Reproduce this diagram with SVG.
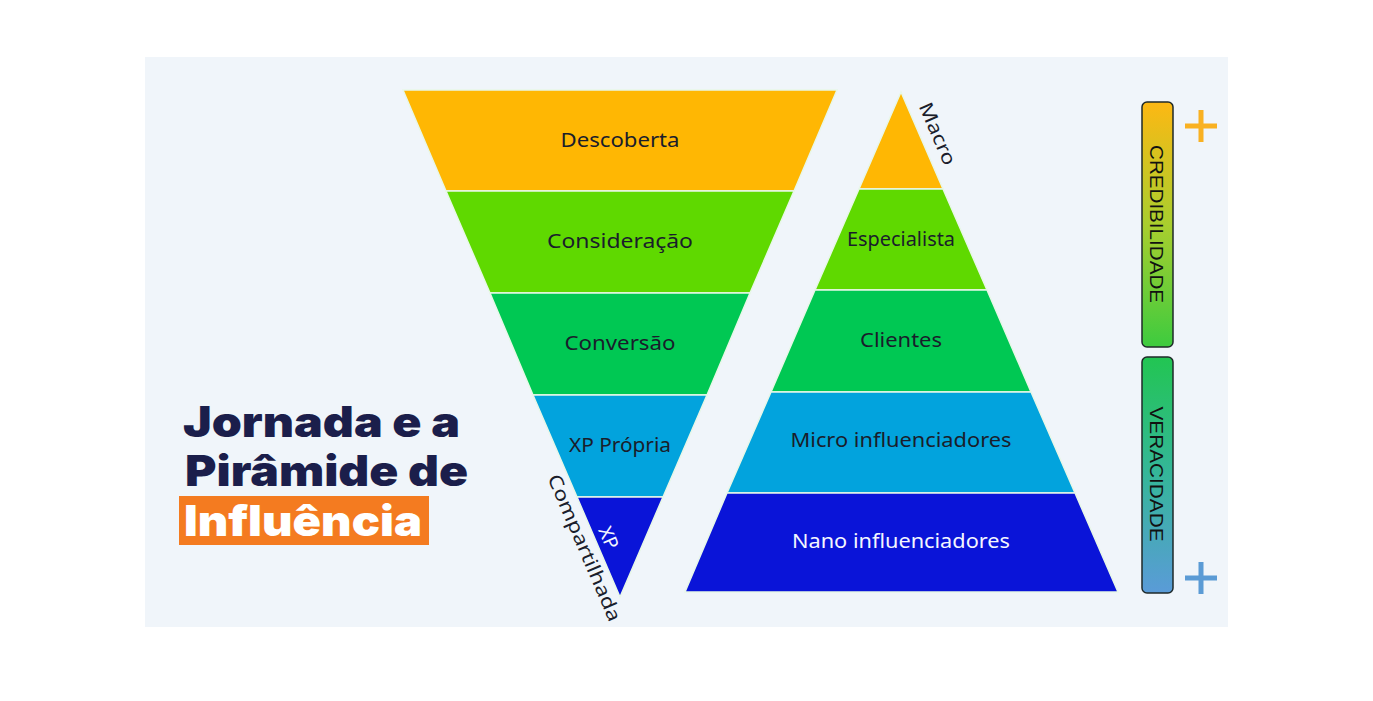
<svg xmlns="http://www.w3.org/2000/svg" width="1373" height="701" viewBox="0 0 1373 701">
<defs>
<linearGradient id="gCred" x1="0" y1="0" x2="0" y2="1">
<stop offset="0" stop-color="#FDB813"/><stop offset="0.5" stop-color="#A9CE2E"/><stop offset="1" stop-color="#3DCB3F"/>
</linearGradient>
<linearGradient id="gVer" x1="0" y1="0" x2="0" y2="1">
<stop offset="0" stop-color="#22C552"/><stop offset="0.5" stop-color="#35B69A"/><stop offset="1" stop-color="#5A9BD8"/>
</linearGradient>
<style>
.band{stroke:#e8f7e8;stroke-width:1.5}
.lbl{font-family:"Noto Sans","Open Sans",sans-serif;font-size:19px;fill:#1a1d2b;text-anchor:middle}
.lblw{fill:#f4f6ff}
.side{font-family:"Noto Sans","Open Sans",sans-serif;font-size:19px;fill:#1a1d2b;text-anchor:middle}
.bar{stroke:#1f2a2a;stroke-width:1.5}
.barTxt{font-family:"Liberation Sans",Arial,sans-serif;font-size:19px;fill:#111;text-anchor:middle}
.title{font-family:Inter,"Noto Sans",sans-serif;font-weight:900;font-size:42px;fill:#1B1E4B}
</style>
</defs>
<rect x="0" y="0" width="1373" height="701" fill="#ffffff"/>
<rect x="145" y="57" width="1083" height="570" fill="#F0F5FA"/>

<g id="funnel">
<g id="descoberta"><polygon class="band" points="403,90 837,90 794,191 446,191" fill="#FFB703"/><text class="lbl" x="620" y="147" textLength="119" lengthAdjust="spacingAndGlyphs">Descoberta</text></g>
<g id="consideracao"><polygon class="band" points="446,191 794,191 750,293 490,293" fill="#5FD900"/><text class="lbl" x="620" y="248" textLength="146" lengthAdjust="spacingAndGlyphs">Consideração</text></g>
<g id="conversao"><polygon class="band" points="490,293 750,293 707,395 533,395" fill="#00C853"/><text class="lbl" x="620" y="350" textLength="111" lengthAdjust="spacingAndGlyphs">Conversão</text></g>
<g id="xp-propria"><polygon class="band" points="533,395 707,395 663,497 577,497" fill="#02A3DD"/><text class="lbl" x="620" y="452" textLength="102" lengthAdjust="spacingAndGlyphs">XP Própria</text></g>
<g id="xp-compartilhada"><polygon class="band" points="577,497 663,497 620,597" fill="#0A14D8"/>
<text class="lbl lblw" x="0" y="0" transform="translate(608,538) rotate(66.8)" dy="6" font-size="18">XP</text>
<text class="side" x="0" y="0" transform="translate(584,548) rotate(66.8)" dy="6" textLength="158" lengthAdjust="spacingAndGlyphs">Compartilhada</text></g>
</g>

<g id="pyramid">
<g id="macro"><polygon class="band" points="901,92 943,189 859,189" fill="#FFB703"/><text class="side" x="0" y="0" transform="translate(937,134) rotate(66.6)" dy="6" textLength="66" lengthAdjust="spacingAndGlyphs">Macro</text></g>
<g id="especialista"><polygon class="band" points="859,189 943,189 987,290 815,290" fill="#5FD900"/><text class="lbl" x="901" y="246" font-size="17" textLength="108" lengthAdjust="spacingAndGlyphs">Especialista</text></g>
<g id="clientes"><polygon class="band" points="815,290 987,290 1031,392 771,392" fill="#00C853"/><text class="lbl" x="901" y="347" font-size="17" textLength="82" lengthAdjust="spacingAndGlyphs">Clientes</text></g>
<g id="micro"><polygon class="band" points="771,392 1031,392 1075,493 727,493" fill="#02A3DD"/><text class="lbl" x="901" y="447" font-size="17" textLength="221" lengthAdjust="spacingAndGlyphs">Micro influenciadores</text></g>
<g id="nano"><polygon class="band" points="727,493 1075,493 1118,592 685,592" fill="#0A14D8"/><text class="lbl lblw" x="901" y="548" font-size="17" textLength="218" lengthAdjust="spacingAndGlyphs">Nano influenciadores</text></g>
</g>

<g id="credibilidade"><rect class="bar" x="1142" y="102" width="31" height="245" rx="5" fill="url(#gCred)"/><text class="barTxt" x="0" y="0" transform="translate(1157,224) rotate(90)" dy="7" textLength="158" lengthAdjust="spacingAndGlyphs">CREDIBILIDADE</text></g>
<g id="veracidade"><rect class="bar" x="1142" y="357" width="31" height="236" rx="5" fill="url(#gVer)"/><text class="barTxt" x="0" y="0" transform="translate(1157,474) rotate(90)" dy="7" textLength="135" lengthAdjust="spacingAndGlyphs">VERACIDADE</text></g>

<g id="plus-top" stroke="#F9B122" stroke-width="5"><line x1="1185" y1="126" x2="1217" y2="126"/><line x1="1201" y1="110" x2="1201" y2="142"/></g>
<g id="plus-bottom" stroke="#5B9BD5" stroke-width="5"><line x1="1185" y1="578" x2="1217" y2="578"/><line x1="1201" y1="562" x2="1201" y2="594"/></g>

<g id="title">
<text class="title" x="183" y="437" textLength="277" lengthAdjust="spacingAndGlyphs">Jornada e a</text>
<text class="title" x="185" y="486" textLength="283" lengthAdjust="spacingAndGlyphs">Pirâmide de</text>
<rect x="179" y="496" width="250" height="49" fill="#F47B20"/>
<text class="title" x="184" y="536" style="fill:#ffffff" textLength="238" lengthAdjust="spacingAndGlyphs">Influência</text>
</g>
</svg>
